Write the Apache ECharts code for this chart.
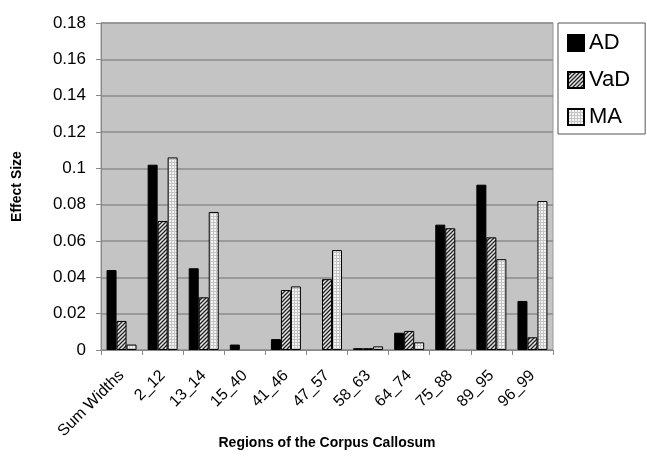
<!DOCTYPE html>
<html>
<head>
<meta charset="utf-8">
<script src="https://cdn.jsdelivr.net/npm/echarts@6/dist/echarts.min.js"></script>
<style>html,body{margin:0;padding:0;background:#fff;}#c{width:647px;height:458px;}</style>
</head>
<body>
<div id="c"></div>
<script>
const categories = ['Sum Widths','2_12','13_14','15_40','41_46','47_57','58_63','64_74','75_88','89_95','96_99'];
const adValues  = [0.044, 0.102, 0.045, 0.003, 0.006, 0.000, 0.001, 0.0095, 0.069, 0.091, 0.027];
const vadValues = [0.016, 0.071, 0.029, 0.000, 0.033, 0.039, 0.001, 0.0105, 0.067, 0.062, 0.007];
const maValues  = [0.003, 0.106, 0.076, 0.000, 0.035, 0.055, 0.002, 0.0042, 0.000, 0.050, 0.082];
const seriesNames = ['AD','VaD','MA'];

function hatch() {
  const c = document.createElement('canvas'); c.width = 4; c.height = 4;
  const g = c.getContext('2d');
  g.fillStyle = '#e8e8e8'; g.fillRect(0,0,4,4);
  g.strokeStyle = '#222'; g.lineWidth = 1.3;
  g.beginPath();
  g.moveTo(-1,5); g.lineTo(5,-1);
  g.moveTo(-1,1); g.lineTo(1,-1);
  g.moveTo(3,5); g.lineTo(5,3);
  g.stroke();
  return c;
}
function grid() {
  const c = document.createElement('canvas'); c.width = 3; c.height = 3;
  const g = c.getContext('2d');
  g.fillStyle = '#f4f4f4'; g.fillRect(0,0,3,3);
  g.fillStyle = '#c4c4c4'; g.fillRect(0,0,3,1); g.fillRect(0,0,1,3);
  return c;
}
// zero values are drawn without an outline, as in the reference
function toData(arr) {
  return arr.map(v => v === 0 ? {value: 0, itemStyle: {borderWidth: 0}} : v);
}

const chart = echarts.init(document.getElementById('c'), null, {renderer:'canvas'});
const border = {borderColor:'#000', borderWidth:1};
chart.setOption({
  animation:false,
  backgroundColor:'#fff',
  textStyle:{fontFamily:'Liberation Sans, Arial, sans-serif'},
  grid:{left:101, right:94, top:23, bottom:108, containLabel:false, outerBoundsMode:'none',
        show:true, backgroundColor:'#c4c4c4', borderColor:'#999', borderWidth:1},
  legend:{
    orient:'vertical', left:558, top:23,
    padding:[9,15,6,9], itemGap:15, itemWidth:16, itemHeight:16, itemTextGap:6,
    icon:'rect', borderColor:'#555', borderWidth:1, backgroundColor:'#fff',
    textStyle:{fontSize:22, color:'#000', lineHeight:22, fontFamily:'Liberation Sans, Arial, sans-serif'},
    data:seriesNames
  },
  xAxis:{
    type:'category', data:categories,
    axisLine:{lineStyle:{color:'#888', width:1}},
    axisTick:{show:true, length:5, lineStyle:{color:'#888'}},
    axisLabel:{rotate:45, fontSize:16, color:'#000', margin:23, interval:0},
    name:'Regions of the Corpus Callosum', nameLocation:'middle', nameGap:86, nameMoveOverlap:false,
    nameTextStyle:{fontSize:14, fontWeight:'bold', color:'#000'}
  },
  yAxis:{
    type:'value', min:0, max:0.18, interval:0.02,
    axisLine:{show:true, lineStyle:{color:'#888'}},
    axisTick:{show:true, length:5, lineStyle:{color:'#888'}},
    splitLine:{lineStyle:{color:'#8c8c8c', width:1.5}},
    axisLabel:{fontSize:17, color:'#000', margin:15, formatter:v=>String(+v.toFixed(2))},
    name:'Effect Size', nameLocation:'middle', nameRotate:90, nameGap:77, nameMoveOverlap:false,
    nameTextStyle:{fontSize:14, fontWeight:'bold', color:'#000'}
  },
  series:[
    {name:'AD', type:'bar', data:toData(adValues), barGap:'0%', barCategoryGap:'27%', itemStyle:Object.assign({color:'#000'}, border)},
    {name:'VaD', type:'bar', data:toData(vadValues), itemStyle:Object.assign({color:{image:hatch(), repeat:'repeat'}}, border)},
    {name:'MA', type:'bar', data:toData(maValues), itemStyle:Object.assign({color:{image:grid(), repeat:'repeat'}}, border)}
  ]
});
</script>
</body>
</html>
